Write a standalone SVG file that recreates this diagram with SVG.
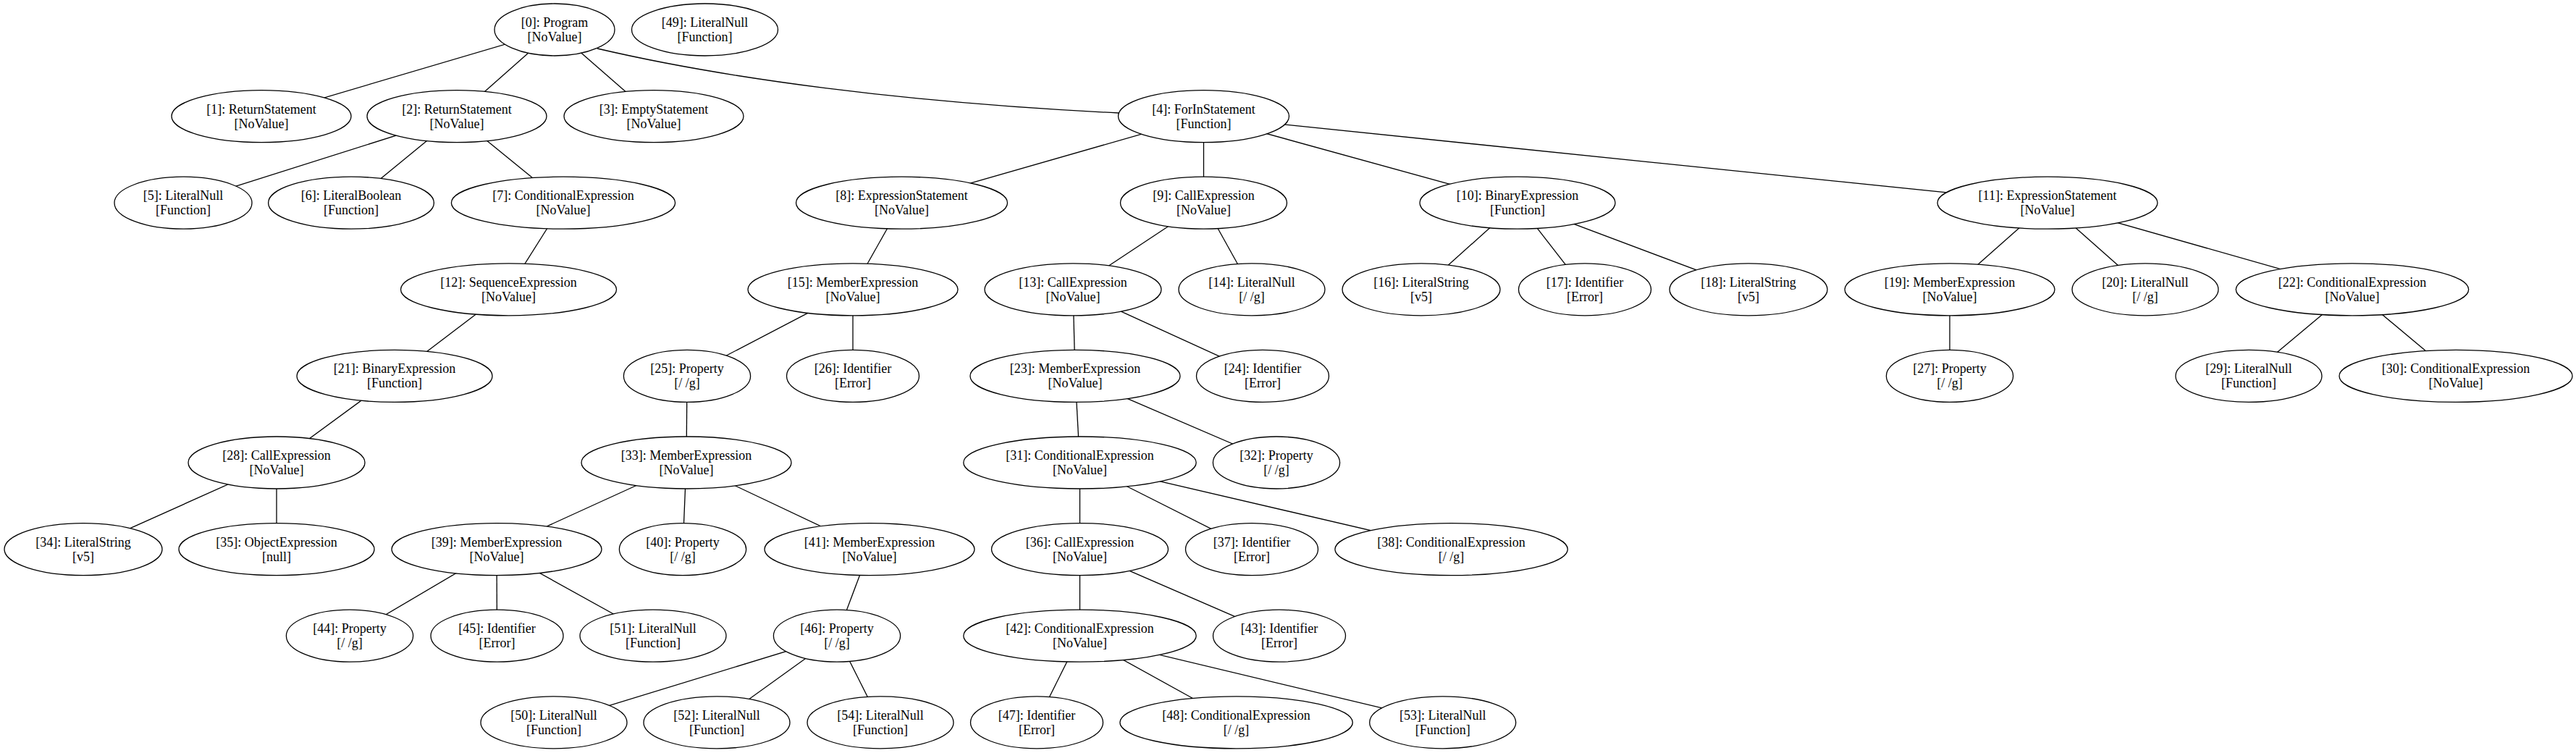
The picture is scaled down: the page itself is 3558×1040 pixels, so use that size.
<svg xmlns="http://www.w3.org/2000/svg" width="3558" height="1040" viewBox="0 0 3558 1040">
<style>
.node ellipse{fill:#fff;stroke:#000;stroke-width:1.3}
.node text{font-family:"Liberation Serif","Times New Roman",serif;font-size:18px;text-anchor:middle;fill:#000}
#edges line,#edges path{stroke:#000;stroke-width:1.3;fill:none}
</style>
<rect width="3558" height="1040" fill="#fff"/>
<g id="edges">
<path d="M825,67 C1000,108 1250,142 1545,156"/>
<line x1="766" y1="41" x2="361" y2="160.6"/>
<line x1="766" y1="41" x2="631" y2="160.6"/>
<line x1="766" y1="41" x2="903" y2="160.6"/>
<line x1="631" y1="160.6" x2="253" y2="280.2"/>
<line x1="631" y1="160.6" x2="485" y2="280.2"/>
<line x1="631" y1="160.6" x2="778" y2="280.2"/>
<line x1="1662.5" y1="160.6" x2="1245.5" y2="280.2"/>
<line x1="1662.5" y1="160.6" x2="1662.5" y2="280.2"/>
<line x1="1662.5" y1="160.6" x2="2096" y2="280.2"/>
<line x1="1662.5" y1="160.6" x2="2828" y2="280.2"/>
<line x1="778" y1="280.2" x2="702.5" y2="399.8"/>
<line x1="1245.5" y1="280.2" x2="1178" y2="399.8"/>
<line x1="1662.5" y1="280.2" x2="1482" y2="399.8"/>
<line x1="1662.5" y1="280.2" x2="1729" y2="399.8"/>
<line x1="2096" y1="280.2" x2="1963" y2="399.8"/>
<line x1="2096" y1="280.2" x2="2189" y2="399.8"/>
<line x1="2096" y1="280.2" x2="2415" y2="399.8"/>
<line x1="2828" y1="280.2" x2="2693" y2="399.8"/>
<line x1="2828" y1="280.2" x2="2963" y2="399.8"/>
<line x1="2828" y1="280.2" x2="3249" y2="399.8"/>
<line x1="702.5" y1="399.8" x2="545" y2="519.4"/>
<line x1="1178" y1="399.8" x2="949" y2="519.4"/>
<line x1="1178" y1="399.8" x2="1178" y2="519.4"/>
<line x1="1482" y1="399.8" x2="1485" y2="519.4"/>
<line x1="1482" y1="399.8" x2="1744" y2="519.4"/>
<line x1="2693" y1="399.8" x2="2693" y2="519.4"/>
<line x1="3249" y1="399.8" x2="3106" y2="519.4"/>
<line x1="3249" y1="399.8" x2="3392" y2="519.4"/>
<line x1="545" y1="519.4" x2="382" y2="639"/>
<line x1="949" y1="519.4" x2="948" y2="639"/>
<line x1="1485" y1="519.4" x2="1491.5" y2="639"/>
<line x1="1485" y1="519.4" x2="1763" y2="639"/>
<line x1="382" y1="639" x2="115" y2="758.6"/>
<line x1="382" y1="639" x2="382" y2="758.6"/>
<line x1="948" y1="639" x2="686" y2="758.6"/>
<line x1="948" y1="639" x2="943" y2="758.6"/>
<line x1="948" y1="639" x2="1201" y2="758.6"/>
<line x1="1491.5" y1="639" x2="1491.5" y2="758.6"/>
<line x1="1491.5" y1="639" x2="1729" y2="758.6"/>
<line x1="1491.5" y1="639" x2="2004.6" y2="758.6"/>
<line x1="686" y1="758.6" x2="483" y2="878.2"/>
<line x1="686" y1="758.6" x2="686.5" y2="878.2"/>
<line x1="686" y1="758.6" x2="902" y2="878.2"/>
<line x1="1201" y1="758.6" x2="1156" y2="878.2"/>
<line x1="1491.5" y1="758.6" x2="1491.5" y2="878.2"/>
<line x1="1491.5" y1="758.6" x2="1767" y2="878.2"/>
<line x1="1156" y1="878.2" x2="765" y2="997.8"/>
<line x1="1156" y1="878.2" x2="990" y2="997.8"/>
<line x1="1156" y1="878.2" x2="1216" y2="997.8"/>
<line x1="1491.5" y1="878.2" x2="1432" y2="997.8"/>
<line x1="1491.5" y1="878.2" x2="1707.6" y2="997.8"/>
<line x1="1491.5" y1="878.2" x2="1992.7" y2="997.8"/>
</g>
<g id="node0" class="node"><ellipse cx="766" cy="41" rx="83" ry="36"/><text x="766" y="37">[0]: Program</text><text x="766" y="57">[NoValue]</text></g>
<g id="node49" class="node"><ellipse cx="973.5" cy="41" rx="101" ry="36"/><text x="973.5" y="37">[49]: LiteralNull</text><text x="973.5" y="57">[Function]</text></g>
<g id="node1" class="node"><ellipse cx="361" cy="160.6" rx="124" ry="36"/><text x="361" y="156.6">[1]: ReturnStatement</text><text x="361" y="176.6">[NoValue]</text></g>
<g id="node2" class="node"><ellipse cx="631" cy="160.6" rx="124" ry="36"/><text x="631" y="156.6">[2]: ReturnStatement</text><text x="631" y="176.6">[NoValue]</text></g>
<g id="node3" class="node"><ellipse cx="903" cy="160.6" rx="124" ry="36"/><text x="903" y="156.6">[3]: EmptyStatement</text><text x="903" y="176.6">[NoValue]</text></g>
<g id="node4" class="node"><ellipse cx="1662.5" cy="160.6" rx="118" ry="36"/><text x="1662.5" y="156.6">[4]: ForInStatement</text><text x="1662.5" y="176.6">[Function]</text></g>
<g id="node5" class="node"><ellipse cx="253" cy="280.2" rx="95" ry="36"/><text x="253" y="276.2">[5]: LiteralNull</text><text x="253" y="296.2">[Function]</text></g>
<g id="node6" class="node"><ellipse cx="485" cy="280.2" rx="114.4" ry="36"/><text x="485" y="276.2">[6]: LiteralBoolean</text><text x="485" y="296.2">[Function]</text></g>
<g id="node7" class="node"><ellipse cx="778" cy="280.2" rx="154.6" ry="36"/><text x="778" y="276.2">[7]: ConditionalExpression</text><text x="778" y="296.2">[NoValue]</text></g>
<g id="node8" class="node"><ellipse cx="1245.5" cy="280.2" rx="146" ry="36"/><text x="1245.5" y="276.2">[8]: ExpressionStatement</text><text x="1245.5" y="296.2">[NoValue]</text></g>
<g id="node9" class="node"><ellipse cx="1662.5" cy="280.2" rx="115" ry="36"/><text x="1662.5" y="276.2">[9]: CallExpression</text><text x="1662.5" y="296.2">[NoValue]</text></g>
<g id="node10" class="node"><ellipse cx="2096" cy="280.2" rx="135" ry="36"/><text x="2096" y="276.2">[10]: BinaryExpression</text><text x="2096" y="296.2">[Function]</text></g>
<g id="node11" class="node"><ellipse cx="2828" cy="280.2" rx="152" ry="36"/><text x="2828" y="276.2">[11]: ExpressionStatement</text><text x="2828" y="296.2">[NoValue]</text></g>
<g id="node12" class="node"><ellipse cx="702.5" cy="399.8" rx="149" ry="36"/><text x="702.5" y="395.8">[12]: SequenceExpression</text><text x="702.5" y="415.8">[NoValue]</text></g>
<g id="node15" class="node"><ellipse cx="1178" cy="399.8" rx="145" ry="36"/><text x="1178" y="395.8">[15]: MemberExpression</text><text x="1178" y="415.8">[NoValue]</text></g>
<g id="node13" class="node"><ellipse cx="1482" cy="399.8" rx="122" ry="36"/><text x="1482" y="395.8">[13]: CallExpression</text><text x="1482" y="415.8">[NoValue]</text></g>
<g id="node14" class="node"><ellipse cx="1729" cy="399.8" rx="101" ry="36"/><text x="1729" y="395.8">[14]: LiteralNull</text><text x="1729" y="415.8">[/ /g]</text></g>
<g id="node16" class="node"><ellipse cx="1963" cy="399.8" rx="109" ry="36"/><text x="1963" y="395.8">[16]: LiteralString</text><text x="1963" y="415.8">[v5]</text></g>
<g id="node17" class="node"><ellipse cx="2189" cy="399.8" rx="91.5" ry="36"/><text x="2189" y="395.8">[17]: Identifier</text><text x="2189" y="415.8">[Error]</text></g>
<g id="node18" class="node"><ellipse cx="2415" cy="399.8" rx="109" ry="36"/><text x="2415" y="395.8">[18]: LiteralString</text><text x="2415" y="415.8">[v5]</text></g>
<g id="node19" class="node"><ellipse cx="2693" cy="399.8" rx="145" ry="36"/><text x="2693" y="395.8">[19]: MemberExpression</text><text x="2693" y="415.8">[NoValue]</text></g>
<g id="node20" class="node"><ellipse cx="2963" cy="399.8" rx="101" ry="36"/><text x="2963" y="395.8">[20]: LiteralNull</text><text x="2963" y="415.8">[/ /g]</text></g>
<g id="node22" class="node"><ellipse cx="3249" cy="399.8" rx="160.7" ry="36"/><text x="3249" y="395.8">[22]: ConditionalExpression</text><text x="3249" y="415.8">[NoValue]</text></g>
<g id="node21" class="node"><ellipse cx="545" cy="519.4" rx="135" ry="36"/><text x="545" y="515.4">[21]: BinaryExpression</text><text x="545" y="535.4">[Function]</text></g>
<g id="node25" class="node"><ellipse cx="949" cy="519.4" rx="87.6" ry="36"/><text x="949" y="515.4">[25]: Property</text><text x="949" y="535.4">[/ /g]</text></g>
<g id="node26" class="node"><ellipse cx="1178" cy="519.4" rx="91.5" ry="36"/><text x="1178" y="515.4">[26]: Identifier</text><text x="1178" y="535.4">[Error]</text></g>
<g id="node23" class="node"><ellipse cx="1485" cy="519.4" rx="145" ry="36"/><text x="1485" y="515.4">[23]: MemberExpression</text><text x="1485" y="535.4">[NoValue]</text></g>
<g id="node24" class="node"><ellipse cx="1744" cy="519.4" rx="91.5" ry="36"/><text x="1744" y="515.4">[24]: Identifier</text><text x="1744" y="535.4">[Error]</text></g>
<g id="node27" class="node"><ellipse cx="2693" cy="519.4" rx="87.6" ry="36"/><text x="2693" y="515.4">[27]: Property</text><text x="2693" y="535.4">[/ /g]</text></g>
<g id="node29" class="node"><ellipse cx="3106" cy="519.4" rx="101" ry="36"/><text x="3106" y="515.4">[29]: LiteralNull</text><text x="3106" y="535.4">[Function]</text></g>
<g id="node30" class="node"><ellipse cx="3392" cy="519.4" rx="161" ry="36"/><text x="3392" y="515.4">[30]: ConditionalExpression</text><text x="3392" y="535.4">[NoValue]</text></g>
<g id="node28" class="node"><ellipse cx="382" cy="639" rx="122" ry="36"/><text x="382" y="635">[28]: CallExpression</text><text x="382" y="655">[NoValue]</text></g>
<g id="node33" class="node"><ellipse cx="948" cy="639" rx="145" ry="36"/><text x="948" y="635">[33]: MemberExpression</text><text x="948" y="655">[NoValue]</text></g>
<g id="node31" class="node"><ellipse cx="1491.5" cy="639" rx="160.7" ry="36"/><text x="1491.5" y="635">[31]: ConditionalExpression</text><text x="1491.5" y="655">[NoValue]</text></g>
<g id="node32" class="node"><ellipse cx="1763" cy="639" rx="87.6" ry="36"/><text x="1763" y="635">[32]: Property</text><text x="1763" y="655">[/ /g]</text></g>
<g id="node34" class="node"><ellipse cx="115" cy="758.6" rx="109" ry="36"/><text x="115" y="754.6">[34]: LiteralString</text><text x="115" y="774.6">[v5]</text></g>
<g id="node35" class="node"><ellipse cx="382" cy="758.6" rx="135" ry="36"/><text x="382" y="754.6">[35]: ObjectExpression</text><text x="382" y="774.6">[null]</text></g>
<g id="node39" class="node"><ellipse cx="686" cy="758.6" rx="145" ry="36"/><text x="686" y="754.6">[39]: MemberExpression</text><text x="686" y="774.6">[NoValue]</text></g>
<g id="node40" class="node"><ellipse cx="943" cy="758.6" rx="87.6" ry="36"/><text x="943" y="754.6">[40]: Property</text><text x="943" y="774.6">[/ /g]</text></g>
<g id="node41" class="node"><ellipse cx="1201" cy="758.6" rx="145" ry="36"/><text x="1201" y="754.6">[41]: MemberExpression</text><text x="1201" y="774.6">[NoValue]</text></g>
<g id="node36" class="node"><ellipse cx="1491.5" cy="758.6" rx="122" ry="36"/><text x="1491.5" y="754.6">[36]: CallExpression</text><text x="1491.5" y="774.6">[NoValue]</text></g>
<g id="node37" class="node"><ellipse cx="1729" cy="758.6" rx="91.5" ry="36"/><text x="1729" y="754.6">[37]: Identifier</text><text x="1729" y="774.6">[Error]</text></g>
<g id="node38" class="node"><ellipse cx="2004.6" cy="758.6" rx="160.7" ry="36"/><text x="2004.6" y="754.6">[38]: ConditionalExpression</text><text x="2004.6" y="774.6">[/ /g]</text></g>
<g id="node44" class="node"><ellipse cx="483" cy="878.2" rx="87.6" ry="36"/><text x="483" y="874.2">[44]: Property</text><text x="483" y="894.2">[/ /g]</text></g>
<g id="node45" class="node"><ellipse cx="686.5" cy="878.2" rx="91.5" ry="36"/><text x="686.5" y="874.2">[45]: Identifier</text><text x="686.5" y="894.2">[Error]</text></g>
<g id="node51" class="node"><ellipse cx="902" cy="878.2" rx="101" ry="36"/><text x="902" y="874.2">[51]: LiteralNull</text><text x="902" y="894.2">[Function]</text></g>
<g id="node46" class="node"><ellipse cx="1156" cy="878.2" rx="87.6" ry="36"/><text x="1156" y="874.2">[46]: Property</text><text x="1156" y="894.2">[/ /g]</text></g>
<g id="node42" class="node"><ellipse cx="1491.5" cy="878.2" rx="160.7" ry="36"/><text x="1491.5" y="874.2">[42]: ConditionalExpression</text><text x="1491.5" y="894.2">[NoValue]</text></g>
<g id="node43" class="node"><ellipse cx="1767" cy="878.2" rx="91.5" ry="36"/><text x="1767" y="874.2">[43]: Identifier</text><text x="1767" y="894.2">[Error]</text></g>
<g id="node50" class="node"><ellipse cx="765" cy="997.8" rx="101" ry="36"/><text x="765" y="993.8">[50]: LiteralNull</text><text x="765" y="1013.8">[Function]</text></g>
<g id="node52" class="node"><ellipse cx="990" cy="997.8" rx="101" ry="36"/><text x="990" y="993.8">[52]: LiteralNull</text><text x="990" y="1013.8">[Function]</text></g>
<g id="node54" class="node"><ellipse cx="1216" cy="997.8" rx="101" ry="36"/><text x="1216" y="993.8">[54]: LiteralNull</text><text x="1216" y="1013.8">[Function]</text></g>
<g id="node47" class="node"><ellipse cx="1432" cy="997.8" rx="91.5" ry="36"/><text x="1432" y="993.8">[47]: Identifier</text><text x="1432" y="1013.8">[Error]</text></g>
<g id="node48" class="node"><ellipse cx="1707.6" cy="997.8" rx="160.7" ry="36"/><text x="1707.6" y="993.8">[48]: ConditionalExpression</text><text x="1707.6" y="1013.8">[/ /g]</text></g>
<g id="node53" class="node"><ellipse cx="1992.7" cy="997.8" rx="101" ry="36"/><text x="1992.7" y="993.8">[53]: LiteralNull</text><text x="1992.7" y="1013.8">[Function]</text></g>
</svg>
